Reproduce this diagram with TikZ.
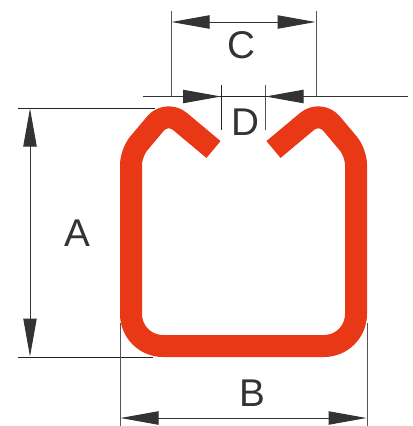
\documentclass[tikz,border=0pt]{standalone}
\usepackage{fontspec}
\setmainfont{Liberation Sans}
\usetikzlibrary{arrows.meta}
\definecolor{dim}{HTML}{333333}
\definecolor{ext}{HTML}{555555}
\definecolor{prof}{HTML}{E83815}
\tikzset{
  extline/.style={draw=ext,line width=0.75pt},
  blackline/.style={draw=dim!70!black,line width=0.75pt},
  dimline/.style={draw=dim,line width=0.75pt,-{Triangle[length=28.5pt,width=10pt,fill=dim]}},
  bothline/.style={draw=dim,line width=0.75pt,{Triangle[length=28.5pt,width=10pt,fill=dim]}-{Triangle[length=28.5pt,width=10pt,fill=dim]}},
  label/.style={text=dim,font=\fontsize{29}{29}\selectfont,inner sep=0pt},
  profile/.style={draw=prof,line width=16.5pt,line join=round}
}
\begin{document}
\begin{tikzpicture}[x=0.75pt,y=-0.75pt]
\useasboundingbox (0,0) rectangle (413,426);
% profile
\draw[profile]
  (213.5,149.5) [rounded corners=13pt] -- (166.6,110.3) [rounded corners=9pt] -- (131,152.7) [rounded corners=24pt]
  -- (131,346) -- (356,346) [rounded corners=9pt] -- (356,152.7) [rounded corners=13pt] -- (320.4,110.3) [sharp corners] -- (273.5,149.5);
% coordinates
\coordinate (c1t) at (171,11); \coordinate (c1b) at (171,96);
\coordinate (c2t) at (316,11); \coordinate (c2b) at (316,96);
\coordinate (ca) at (171.5,22); \coordinate (cb) at (315.5,22);
\coordinate (d1t) at (221.5,85); \coordinate (d1b) at (221.5,130);
\coordinate (d2t) at (265,85); \coordinate (d2b) at (265,130);
\coordinate (dl) at (143,96.5); \coordinate (dr) at (408,96.5);
\coordinate (da) at (221,96.5); \coordinate (db) at (265.5,96.5);
\coordinate (a1l) at (18,108); \coordinate (a1r) at (155,108);
\coordinate (a2l) at (18,357); \coordinate (a2r) at (153,357);
\coordinate (aa) at (30,108.5); \coordinate (ab) at (30,356.5);
\coordinate (b1t) at (120,323); \coordinate (b1b) at (120,426);
\coordinate (b2t) at (367,323); \coordinate (b2b) at (367,426);
\coordinate (ba) at (120.5,418); \coordinate (bb) at (366.5,418);
% extension lines
\draw[extline] (c1t) -- (c1b);
\draw[extline] (c2t) -- (c2b);
\draw[blackline] (d1t) -- (d1b);
\draw[extline] (d2t) -- (d2b);
\draw[blackline] (a1l) -- (a1r);
\draw[blackline] (a2l) -- (a2r);
\draw[extline] (b1t) -- (b1b);
\draw[extline] (b2t) -- (b2b);
\draw[blackline] (dl) -- (dr);
% dimension arrows
\draw[bothline] (ca) -- (cb);
\draw[dimline] (dl) -- (da);
\draw[dimline] (dr) -- (db);
\draw[bothline] (aa) -- (ab);
\draw[bothline] (ba) -- (bb);
% labels
\node[label] (A) at (77,233) {A};
\node[label] (B) at (252,393) {B};
\node[label] (C) at (241,45) {C};
\node[label] (D) at (245,122) {D};
\end{tikzpicture}
\end{document}
